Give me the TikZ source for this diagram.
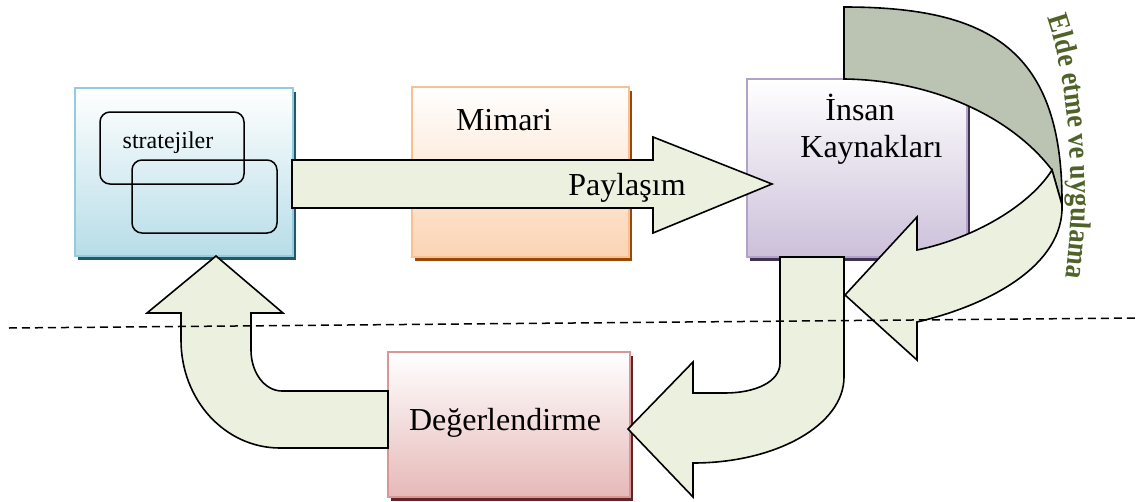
\documentclass[tikz,border=0pt]{standalone}
\usepackage{fontspec}
\setmainfont{Liberation Serif}
\newfontfamily\loopfont[FakeStretch=0.88]{Liberation Serif}
\usetikzlibrary{shadows,decorations.text}

\definecolor{stratEdge}{HTML}{93CDDD}
\definecolor{stratFill}{HTML}{B7DDE8}
\definecolor{stratShadow}{HTML}{215968}
\definecolor{mimEdge}{HTML}{FAC090}
\definecolor{mimFill}{HTML}{FBD4B4}
\definecolor{mimShadow}{HTML}{984807}
\definecolor{hrEdge}{HTML}{B3A2C7}
\definecolor{hrFill}{HTML}{CCC0DA}
\definecolor{hrShadow}{HTML}{3F3151}
\definecolor{evalEdge}{HTML}{D99694}
\definecolor{evalFill}{HTML}{E6B9B8}
\definecolor{evalShadow}{HTML}{632523}
\definecolor{flowFill}{HTML}{EBF1DE}
\definecolor{flowBack}{HTML}{BBC3B2}
\definecolor{loopText}{HTML}{4F6228}

\begin{document}
\begin{tikzpicture}[x=1pt,y=-1pt,
  panel/.style={rectangle, inner sep=0pt, line width=2pt, draw=#1Edge,
    top color=white, bottom color=#1Fill,
    drop shadow={shadow xshift=3pt, shadow yshift=-4pt, opacity=1, fill=#1Shadow}},
  lozenge/.style={rectangle, rounded corners=10pt, draw=black, line width=1.5pt, inner sep=0pt},
  caption/.style={font=\fontsize{32}{36}\selectfont, inner sep=0pt, anchor=base},
  flow/.style={draw=black, line width=1.6pt, fill=flowFill, line join=miter, miter limit=10},
  flowback/.style={draw=black, line width=1.6pt, fill=flowBack, line join=miter},
  cutline/.style={draw=black, line width=1.5pt, dash pattern=on 8pt off 5pt}]

\useasboundingbox (0,0) rectangle (1146,501);

% the four coloured panels
\node[panel=strat, minimum width=218pt, minimum height=168pt] (strat) at (184,172) {};
\node[panel=mim,   minimum width=217pt, minimum height=170pt] (mim)   at (520.5,172) {};
\node[panel=hr,    minimum width=220pt, minimum height=178pt] (hr)    at (857,168) {};

% overlapping rounded frames inside the strategy panel
\node[lozenge, minimum width=144pt, minimum height=72pt] (stratA) at (172,148) {};
\node[lozenge, minimum width=145pt, minimum height=73pt] (stratB) at (204.5,196.5) {};
\node[caption, font=\fontsize{24}{28}\selectfont] (stratTxt) at (168,148) {stratejiler};

\node[caption] (mimTxt) at (504,130) {Mimari};

% sharing arrow
\draw[flow] (292,160) -- (653,160) -- (653,137) -- (772,184) -- (653,233) -- (653,208) -- (292,208) -- cycle;
\node[caption] (shareTxt) at (627,195) {Paylaşım};

\node[caption] (hrTxtA) at (860,120) {İnsan};
\node[caption] (hrTxtB) at (871.5,157) {Kaynakları};

% loop arrow around the HR panel: back face, then front face with head
\draw[flowback] (844,7) .. controls (990,7) and (1063,50) .. (1062,205)
  -- (1052,170) .. controls (1010,115) and (930,80) .. (844,79) -- cycle;
\draw[flow] (1052,170) .. controls (1030,205) and (975,238) .. (917,250)
  -- (917,217) -- (845,295) -- (917,360) -- (917,322)
  .. controls (990,305) and (1064,265) .. (1062,205) -- cycle;

% evaluation panel and the arrows through it
\node[panel=eval, minimum width=242pt, minimum height=145pt] (eval) at (509,424.5) {};
\node[caption] (evalTxt) at (505,430) {Değerlendirme};

\draw[flow] (780,257) -- (844,257) -- (844,377)
  .. controls (844,425) and (776,463) .. (693,463)
  -- (693,497) -- (628,429) -- (693,362) -- (693,393) -- (725,393)
  .. controls (755,393) and (780,382) .. (780,363) -- cycle;

\draw[flow] (388,391) -- (282,391) .. controls (265,391) and (251,373) .. (251,350)
  -- (251,313) -- (283,313) -- (216,256) -- (147,313) -- (181,313) -- (181,340)
  .. controls (181,400) and (225,448) .. (280,448) -- (388,448) -- cycle;

% dividing line
\coordinate (cutL) at (9,328);
\coordinate (cutR) at (1137,318);
\draw[cutline] (cutL) -- (cutR);

% curved caption beside the loop arrow
\path[decorate, decoration={text along path, text color=loopText, text align=left,
  text={|\loopfont\bfseries\fontsize{30}{30}\selectfont|Elde etme ve uygulama}}]
  (1047,18) .. controls (1073,92) and (1078,220) .. (1062,294);

\end{tikzpicture}
\end{document}
